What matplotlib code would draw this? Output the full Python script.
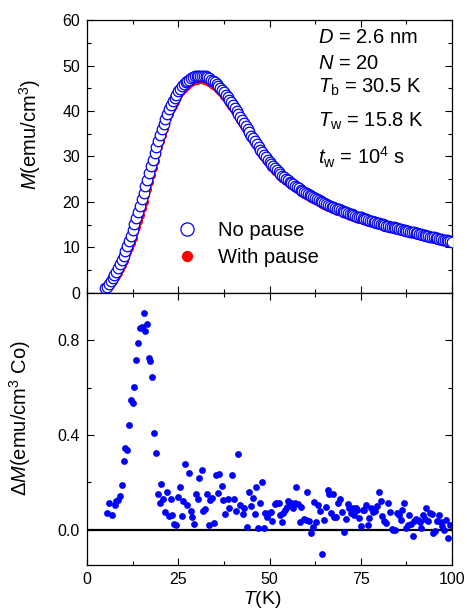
import matplotlib
matplotlib.use("Agg")
import matplotlib.pyplot as plt
import numpy as np
from matplotlib.ticker import MultipleLocator

plt.rcParams['font.family'] = ['Liberation Sans', 'DejaVu Sans']
plt.rcParams['mathtext.fontset'] = 'custom'
plt.rcParams['mathtext.rm'] = 'Liberation Sans'
plt.rcParams['mathtext.it'] = 'Liberation Sans:italic'
plt.rcParams['mathtext.default'] = 'regular'

# M(T) curves, T from 5 K to 100 K every 0.5 K
T = np.arange(5.0, 100.01, 0.5)
M_nopause = [
    1.0, 1.4, 2.0, 2.6, 3.2, 3.9, 4.6, 5.4, 6.3, 7.2,
    8.2, 9.2, 10.3, 11.4, 12.6, 13.8, 15.1, 16.4, 17.8, 19.2,
    20.6, 22.0, 23.5, 24.9, 26.4, 27.9, 29.3, 30.7, 32.1, 33.5,
    34.8, 36.0, 37.2, 38.3, 39.4, 40.4, 41.3, 42.1, 42.9, 43.6,
    44.3, 44.9, 45.4, 45.9, 46.3, 46.6, 46.9, 47.2, 47.4, 47.6,
    47.7, 47.8, 47.8, 47.8, 47.7, 47.6, 47.4, 47.2, 46.9, 46.6,
    46.3, 45.9, 45.5, 45.1, 44.6, 44.1, 43.6, 43.1, 42.5, 41.9,
    41.3, 40.7, 40.0, 39.4, 38.7, 38.0, 37.3, 36.7, 36.0, 35.3,
    34.6, 34.0, 33.3, 32.7, 32.1, 31.5, 30.9, 30.4, 29.8, 29.3,
    28.8, 28.3, 27.9, 27.4, 27.0, 26.6, 26.2, 25.8, 25.5, 25.1,
    24.8, 24.5, 24.2, 23.9, 23.6, 23.3, 23.0, 22.7, 22.5, 22.2,
    22.0, 21.7, 21.5, 21.3, 21.0, 20.8, 20.6, 20.4, 20.2, 20.0,
    19.8, 19.6, 19.4, 19.2, 19.0, 18.9, 18.7, 18.5, 18.4, 18.2,
    18.0, 17.9, 17.7, 17.6, 17.4, 17.3, 17.1, 17.0, 16.8, 16.7,
    16.6, 16.4, 16.3, 16.2, 16.0, 15.9, 15.8, 15.7, 15.5, 15.4,
    15.3, 15.2, 15.1, 14.9, 14.8, 14.7, 14.6, 14.5, 14.4, 14.3,
    14.2, 14.1, 14.0, 13.9, 13.8, 13.7, 13.6, 13.5, 13.4, 13.3,
    13.2, 13.1, 13.0, 12.9, 12.8, 12.7, 12.6, 12.5, 12.4, 12.3,
    12.2, 12.1, 12.0, 11.9, 11.8, 11.7, 11.6, 11.6, 11.5, 11.4,
    11.3,
]
M_pause = [
    0.8, 1.1, 1.6, 2.1, 2.6, 3.2, 3.8, 4.5, 5.3, 6.1,
    7.0, 7.9, 8.9, 9.9, 11.0, 12.1, 13.3, 14.5, 15.8, 17.2,
    18.6, 20.0, 21.5, 22.9, 24.5, 26.0, 27.5, 29.0, 30.5, 32.0,
    33.4, 34.7, 36.0, 37.2, 38.4, 39.4, 40.4, 41.2, 42.0, 42.8,
    43.5, 44.1, 44.6, 45.1, 45.5, 45.8, 46.1, 46.4, 46.6, 46.8,
    46.9, 47.0, 47.0, 47.0, 46.9, 46.8, 46.6, 46.4, 46.1, 45.8,
    45.6, 45.2, 44.8, 44.4, 43.9, 43.4, 42.9, 42.4, 41.8, 41.2,
    40.7, 40.1, 39.4, 38.8, 38.1, 37.4, 36.7, 36.1, 35.4, 34.7,
    34.1, 33.5, 32.8, 32.2, 31.6, 31.0, 30.4, 29.9, 29.3, 28.8,
    28.3, 27.8, 27.4, 26.9, 26.5, 26.1, 25.7, 25.3, 25.0, 24.6,
    24.4, 24.1, 23.8, 23.5, 23.2, 22.9, 22.6, 22.3, 22.1, 21.8,
    21.6, 21.3, 21.1, 20.9, 20.6, 20.4, 20.2, 20.0, 19.8, 19.6,
    19.4, 19.2, 19.0, 18.8, 18.6, 18.5, 18.3, 18.1, 18.0, 17.8,
    17.6, 17.5, 17.3, 17.2, 17.0, 16.9, 16.7, 16.6, 16.4, 16.3,
    16.3, 16.1, 16.0, 15.9, 15.7, 15.6, 15.5, 15.4, 15.2, 15.1,
    15.0, 14.9, 14.8, 14.6, 14.5, 14.4, 14.3, 14.2, 14.1, 14.0,
    13.9, 13.8, 13.7, 13.6, 13.5, 13.4, 13.3, 13.2, 13.1, 13.0,
    12.9, 12.8, 12.7, 12.6, 12.5, 12.4, 12.3, 12.2, 12.1, 12.0,
    11.9, 11.8, 11.7, 11.6, 11.5, 11.4, 11.3, 11.3, 11.2, 11.1,
    11.0,
]

# difference dM(T)
T_dM = [
    5.5, 6.0, 6.9, 7.6, 8.0, 8.6, 9.1, 9.5, 10.0, 10.5,
    11.0, 11.5, 12.0, 12.6, 13.0, 13.5, 14.0, 14.4, 15.0, 15.5,
    16.0, 16.5, 16.9, 17.3, 17.8, 18.3, 18.9, 19.4, 19.9, 20.4,
    20.9, 21.4, 22.0, 22.4, 23.0, 23.4, 23.8, 24.5, 25.0, 25.5,
    25.9, 26.4, 26.9, 27.4, 27.9, 28.4, 28.8, 29.4, 29.9, 30.5,
    30.8, 31.4, 31.8, 32.3, 32.8, 33.3, 33.8, 34.3, 34.8, 35.3,
    35.9, 36.3, 36.9, 37.2, 37.9, 38.5, 38.9, 39.7, 40.4, 40.8,
    41.4, 42.0, 42.7, 43.1, 43.8, 44.3, 44.9, 45.4, 45.9, 46.3,
    46.9, 47.4, 47.9, 48.4, 48.9, 49.4, 49.8, 50.4, 50.8, 51.4,
    51.9, 52.6, 53.0, 53.4, 53.8, 54.3, 54.8, 55.2, 55.8, 56.3,
    56.9, 57.3, 57.8, 58.3, 58.7, 59.4, 59.9, 60.4, 60.8, 61.4,
    61.8, 62.3, 62.8, 63.3, 63.8, 64.4, 64.9, 65.4, 66.0, 66.4,
    66.9, 67.4, 67.8, 68.3, 68.8, 69.4, 69.9, 70.5, 71.0, 71.4,
    71.8, 72.3, 72.8, 73.2, 73.6, 74.1, 74.6, 75.0, 75.5, 76.0,
    76.4, 76.9, 77.3, 77.9, 78.4, 78.9, 79.4, 79.9, 80.5, 80.9,
    81.4, 81.8, 82.4, 82.9, 83.5, 83.9, 84.4, 84.9, 85.4, 86.0,
    86.4, 86.9, 87.3, 87.9, 88.3, 88.8, 89.4, 89.7, 90.2, 90.7,
    91.1, 91.6, 92.0, 92.5, 92.9, 93.5, 94.0, 94.4, 94.9, 95.4,
    95.9, 96.4, 96.9, 97.3, 97.8, 98.4, 99.0, 99.4,
]
dM = [
    0.070, 0.113, 0.062, 0.103, 0.120, 0.124, 0.141, 0.190, 0.290, 0.344,
    0.338, 0.440, 0.549, 0.535, 0.603, 0.718, 0.790, 0.852, 0.856, 0.915,
    0.839, 0.868, 0.725, 0.711, 0.645, 0.410, 0.324, 0.149, 0.113, 0.194,
    0.130, 0.075, 0.160, 0.056, 0.128, 0.063, 0.025, 0.018, 0.138, 0.180,
    0.056, 0.120, 0.279, 0.103, 0.239, 0.077, 0.054, 0.025, 0.152, 0.131,
    0.218, 0.251, 0.079, 0.086, 0.149, 0.020, 0.123, 0.132, 0.028, 0.229,
    0.155, 0.235, 0.183, 0.123, 0.065, 0.129, 0.089, 0.232, 0.127, 0.079,
    0.321, 0.103, 0.065, 0.093, 0.011, 0.159, 0.099, 0.135, 0.065, 0.180,
    0.008, 0.114, 0.201, 0.007, 0.070, 0.054, 0.070, 0.075, 0.037, 0.106,
    0.113, 0.114, 0.063, 0.030, 0.070, 0.082, 0.096, 0.120, 0.110, 0.093,
    0.110, 0.180, 0.107, 0.032, 0.096, 0.046, 0.042, 0.159, 0.035, -0.013,
    0.011, 0.117, 0.032, 0.103, 0.079, -0.104, 0.042, 0.096, 0.169, 0.148,
    0.068, 0.148, 0.054, 0.054, 0.110, 0.127, 0.075, -0.010, 0.044, 0.107,
    0.093, 0.068, 0.089, 0.063, 0.089, 0.082, 0.049, 0.015, 0.082, 0.082,
    0.103, 0.021, 0.049, 0.093, 0.075, 0.079, 0.099, 0.159, 0.121, 0.058,
    0.035, 0.028, 0.114, 0.075, 0.004, -0.003, 0.000, 0.070, 0.061, 0.042,
    0.082, 0.110, 0.008, 0.018, 0.061, 0.025, -0.028, 0.035, 0.044, 0.039,
    0.030, 0.008, 0.063, 0.046, 0.089, 0.035, 0.070, 0.065, -0.014, -0.006,
    0.035, 0.061, 0.030, 0.014, 0.000, 0.042, -0.034, 0.018,
]

fig = plt.figure(figsize=(4.67, 6.10), dpi=100)
ax1 = fig.add_axes([0.1863, 0.5197, 0.7816, 0.4475])
ax2 = fig.add_axes([0.1863, 0.0738, 0.7816, 0.4459])

# top panel
ax1.plot(T, M_pause, 'o', color='red', markersize=6.5, markeredgewidth=0, label='With pause', zorder=2)
ax1.plot(T, M_nopause, 'o', markerfacecolor='white', markeredgecolor='blue', markersize=7.6,
         markeredgewidth=0.9, label='No pause', zorder=3)
ax1.set_xlim(0, 100)
ax1.set_ylim(0, 60)
ax1.yaxis.set_major_locator(MultipleLocator(10))
ax1.yaxis.set_minor_locator(MultipleLocator(5))
ax1.set_ylabel(r'$\it{M}$(emu/cm$^3$)', fontsize=14.5)
ax1.yaxis.set_label_coords(-0.12, 0.582)
ax1.tick_params(labelbottom=False)

h, l = ax1.get_legend_handles_labels()
ax1.legend(h[::-1], l[::-1], loc='upper left', bbox_to_anchor=(0.249, 0.262), frameon=False,
           fontsize=14.5, handlelength=0.9, handletextpad=1.1, labelspacing=0.36,
           borderpad=0, borderaxespad=0, numpoints=1, markerscale=1.25)

info = [
    (r'$\it{D}$ = 2.6 nm', 0.937),
    (r'$\it{N}$ = 20', 0.842),
    (r'$\it{T}_{\rm b}$ = 30.5 K', 0.755),
    (r'$\it{T}_{\rm w}$ = 15.8 K', 0.628),
    (r'$\it{t}_{\rm w}$ = 10$^4$ s', 0.495),
]
for s, yy in info:
    ax1.text(0.633, yy, s, transform=ax1.transAxes, fontsize=14.5, va='center', ha='left')

# bottom panel
ax2.plot(T_dM, dM, 'o', color='blue', markersize=4.9, markeredgewidth=0)
ax2.axhline(0, color='black', linewidth=1.6, zorder=1)
ax2.set_xlim(0, 100)
ax2.set_ylim(-0.15, 1.0)
ax2.yaxis.set_major_locator(MultipleLocator(0.4))
ax2.yaxis.set_minor_locator(MultipleLocator(0.2))
ax2.yaxis.set_major_formatter(matplotlib.ticker.FormatStrFormatter('%.1f'))
ax2.set_ylabel(r'$\Delta\it{M}$(emu/cm$^3$ Co)', fontsize=14.5)
ax2.yaxis.set_label_coords(-0.148, 0.54)
ax2.set_xlabel(r'$\it{T}$(K)', fontsize=14)
ax2.xaxis.set_label_coords(0.481, -0.088)

for ax in (ax1, ax2):
    ax.xaxis.set_major_locator(MultipleLocator(25))
    ax.xaxis.set_minor_locator(MultipleLocator(12.5))
    ax.tick_params(which='both', direction='in', top=True, right=True, labelsize=11.5, width=0.8)
    ax.tick_params(which='major', length=5, pad=5)
    ax.tick_params(which='minor', length=3)
    for sp in ax.spines.values():
        sp.set_linewidth(0.9)

fig.savefig('out.png', dpi=100)
